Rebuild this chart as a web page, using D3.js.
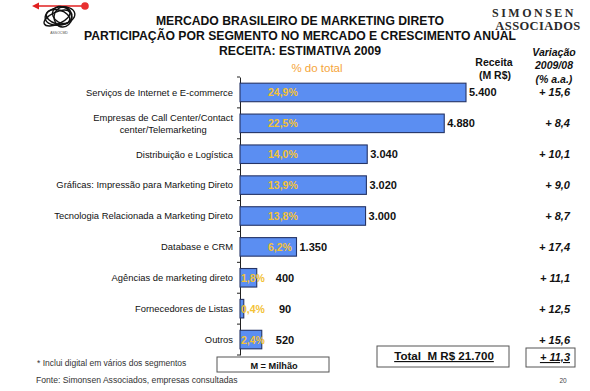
<!DOCTYPE html>
<html><head><meta charset="utf-8">
<script src="https://cdn.jsdelivr.net/npm/d3@7"></script>
<style>
body{margin:0;background:#fff}
svg{display:block}
text{font-family:"Liberation Sans",Arial,sans-serif}
</style></head>
<body>
<script>
// ---- data ----
const categories = [
  "Serviços de Internet e E-commerce",
  "Empresas de Call Center/Contact\ncenter/Telemarketing",
  "Distribuição e Logística",
  "Gráficas: Impressão para Marketing Direto",
  "Tecnologia Relacionada a Marketing Direto",
  "Database e CRM",
  "Agências de marketing direto",
  "Fornecedores de Listas",
  "Outros"
];
const receita = [5400, 4880, 3040, 3020, 3000, 1350, 400, 90, 520];
const share = [24.9, 22.5, 14.0, 13.9, 13.8, 6.2, 1.8, 0.4, 2.4];
const growth = [15.6, 8.4, 10.1, 9.0, 8.7, 17.4, 11.1, 12.5, 15.6];
const totalReceita = 21700;
const totalGrowth = 11.3;
const titleLines = [
  "MERCADO BRASILEIRO DE MARKETING DIRETO",
  "PARTICIPAÇÃO POR SEGMENTO NO MERCADO E CRESCIMENTO ANUAL",
  "RECEITA: ESTIMATIVA 2009"
];

// ---- setup ----
const W = 590, H = 391;
const loc = d3.formatLocale({decimal: ",", thousands: ".", grouping: [3], currency: ["R$ ", ""]});
const fInt = loc.format(",d");
const f1 = loc.format(".1f");

const svg = d3.select("body").append("svg").attr("width", W).attr("height", H);

const x = d3.scaleLinear().domain([0, 5400]).range([240, 466]);
const y = d3.scaleBand().domain(categories).range([77, 355]).paddingInner(0.4).paddingOuter(0.2);
const x0 = x(0);

// ---- logo ----
const logo = svg.append("g");
logo.append("line").attr("x1", 36).attr("y1", 6).attr("x2", 85).attr("y2", 6)
  .attr("stroke", "#e02020").attr("stroke-width", 1.6);
logo.append("path").attr("d", "M32,6 L39,2.5 L39,9.5 Z").attr("fill", "#e02020");
logo.append("circle").attr("cx", 85).attr("cy", 6).attr("r", 3.8).attr("fill", "#e83030");
[[60, 16, 15, 9, -10], [58, 17, 12, 7, 15], [62, 15, 10, 8, 30], [57, 18, 14, 6, -25], [63, 17, 9, 10, 5]].forEach(e => {
  logo.append("ellipse").attr("cx", e[0]).attr("cy", e[1]).attr("rx", e[2]).attr("ry", e[3])
    .attr("transform", `rotate(${e[4]},${e[0]},${e[1]})`)
    .attr("fill", "none").attr("stroke", "#111").attr("stroke-width", 1.4);
});
logo.append("text").attr("x", 59).attr("y", 34).attr("text-anchor", "middle")
  .attr("font-size", 3.5).attr("fill", "#555").text("ASSOCMD");

// ---- title ----
svg.append("g").selectAll("text").data(titleLines).join("text")
  .attr("x", 300).attr("y", (d, i) => 25 + i * 15)
  .attr("text-anchor", "middle").attr("font-weight", "bold").attr("font-size", 12.2)
  .attr("fill", "#111").text(d => d);

// Simonsen Associados
svg.append("text").attr("x", 534).attr("y", 16.5).attr("text-anchor", "middle")
  .style("font-family", "'Liberation Serif',serif")
  .attr("font-weight", "bold").attr("font-size", 12).attr("letter-spacing", 2.5)
  .attr("fill", "#2a2a2a").text("SIMONSEN");
svg.append("text").attr("x", 538).attr("y", 29.5).attr("text-anchor", "middle")
  .style("font-family", "'Liberation Serif',serif")
  .attr("font-weight", "bold").attr("font-size", 12.5).attr("letter-spacing", 0.4)
  .attr("fill", "#2a2a2a").text("ASSOCIADOS");

// column headers
svg.append("text").attr("x", 317).attr("y", 72).attr("text-anchor", "middle")
  .attr("font-size", 11.5).attr("fill", "#f5a53a").text("% do total");
const hdrR = svg.append("g").attr("font-weight", "bold").attr("font-size", 10.5).attr("fill", "#111");
hdrR.append("text").attr("x", 494).attr("y", 66).attr("text-anchor", "middle").text("Receita");
hdrR.append("text").attr("x", 495).attr("y", 79).attr("text-anchor", "middle").text("(M R$)");
const hdrV = svg.append("g").attr("font-weight", "bold").attr("font-style", "italic").attr("font-size", 10.5).attr("fill", "#111");
hdrV.append("text").attr("x", 554).attr("y", 56).attr("text-anchor", "middle").text("Variação");
hdrV.append("text").attr("x", 554).attr("y", 69).attr("text-anchor", "middle").text("2009/08");
hdrV.append("text").attr("x", 554).attr("y", 83).attr("text-anchor", "middle").text("(% a.a.)");

// ---- axis ----
const axis = d3.axisLeft(y).tickSize(0).tickFormat("");
const gAxis = svg.append("g").attr("transform", `translate(${x0},0)`).call(axis);
gAxis.select(".domain").attr("stroke", "#222").attr("stroke-width", 1);
const boundaryY = [y.range()[0]].concat(categories.slice(1).map(c => y(c) - (y.step() - y.bandwidth()) / 2)).concat([y.range()[1]]);
svg.append("g").selectAll("line").data(boundaryY).join("line")
  .attr("x1", x0 - 3).attr("x2", x0).attr("y1", d => d).attr("y2", d => d)
  .attr("stroke", "#222").attr("stroke-width", 1);

// ---- bars ----
svg.append("g").selectAll("rect").data(categories).join("rect")
  .attr("x", x0).attr("y", d => y(d))
  .attr("width", (d, i) => x(receita[i]) - x0).attr("height", y.bandwidth())
  .attr("fill", "#5b8ef2").attr("stroke", "#253466").attr("stroke-width", 1.1);

// category labels
const labG = svg.append("g").attr("font-size", 9.4).attr("fill", "#111");
categories.forEach(c => {
  const lines = c.split("\n");
  const cy = y(c) + y.bandwidth() / 2;
  if (lines.length === 1) {
    labG.append("text").attr("x", x0 - 7).attr("y", cy + 3.3).attr("text-anchor", "end").text(c);
  } else {
    const t1 = labG.append("text").attr("x", x0 - 7).attr("y", cy - 2.5).attr("text-anchor", "end").text(lines[0]);
    const w1 = t1.node().getComputedTextLength();
    labG.append("text").attr("x", x0 - 7 - w1 / 2).attr("y", cy + 9.5).attr("text-anchor", "middle").text(lines[1]);
  }
});

// share labels
svg.append("g").selectAll("text").data(categories).join("text")
  .attr("x", (d, i) => Math.min(x0 + 28, Math.max(x0 + 1, x(receita[i]) - 26)))
  .attr("y", d => y(d) + y.bandwidth() / 2 + 4)
  .attr("font-size", 10.5).attr("font-weight", "bold").attr("fill", "#f3c236")
  .text((d, i) => f1(share[i]) + "%");

// receita labels
svg.append("g").selectAll("text").data(categories).join("text")
  .each(function(d, i) {
    const end = x(receita[i]) + 3;
    const small = end < x0 + 35;
    d3.select(this).attr("x", small ? x0 + 45 : end).attr("text-anchor", small ? "middle" : "start");
  })
  .attr("y", d => y(d) + y.bandwidth() / 2 + 4)
  .attr("font-size", 11).attr("font-weight", "bold").attr("fill", "#111")
  .text((d, i) => fInt(receita[i]));

// growth labels
svg.append("g").selectAll("text").data(categories).join("text")
  .attr("x", 570).attr("y", d => y(d) + y.bandwidth() / 2 + 4)
  .attr("text-anchor", "end").attr("font-size", 11).attr("font-weight", "bold").attr("font-style", "italic")
  .attr("fill", "#111").text((d, i) => "+ " + f1(growth[i]));

// ---- total boxes ----
svg.append("rect").attr("x", 377).attr("y", 346).attr("width", 132).attr("height", 21)
  .attr("fill", "#fff").attr("stroke", "#555").attr("stroke-width", 1);
svg.append("text").attr("x", 444).attr("y", 360).attr("text-anchor", "middle")
  .attr("font-size", 11.6).attr("font-weight", "bold").attr("fill", "#111")
  .style("text-decoration", "underline").style("white-space", "pre")
  .text("Total  M R$ " + fInt(totalReceita));
svg.append("rect").attr("x", 526).attr("y", 348).attr("width", 49).attr("height", 19)
  .attr("fill", "#fff").attr("stroke", "#555").attr("stroke-width", 1);
svg.append("text").attr("x", 570).attr("y", 361).attr("text-anchor", "end")
  .attr("font-size", 11).attr("font-weight", "bold").attr("font-style", "italic").attr("fill", "#111")
  .style("text-decoration", "underline").text("+ " + f1(totalGrowth));

// M = Milhão
svg.append("rect").attr("x", 217).attr("y", 357).attr("width", 112).attr("height", 15)
  .attr("fill", "#fff").attr("stroke", "#555").attr("stroke-width", 1);
svg.append("text").attr("x", 274).attr("y", 368.5).attr("text-anchor", "middle")
  .attr("font-size", 9.2).attr("font-weight", "bold").attr("fill", "#111").text("M = Milhão");

// footnotes
svg.append("text").attr("x", 37).attr("y", 366).attr("font-size", 8.5).attr("fill", "#333")
  .text("* Inclui digital em vários dos segmentos");
svg.append("text").attr("x", 36).attr("y", 383).attr("font-size", 8.6).attr("fill", "#333")
  .text("Fonte: Simonsen Associados, empresas consultadas");
svg.append("text").attr("x", 563).attr("y", 383).attr("text-anchor", "middle")
  .attr("font-size", 6.5).attr("fill", "#444").text("20");
</script>
</body></html>
